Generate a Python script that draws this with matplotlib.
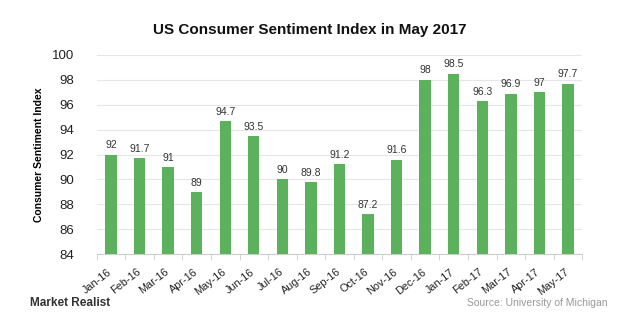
import matplotlib.pyplot as plt
import matplotlib.transforms as mtransforms
import numpy as np

months = ['Jan-16', 'Feb-16', 'Mar-16', 'Apr-16', 'May-16', 'Jun-16', 'Jul-16',
          'Aug-16', 'Sep-16', 'Oct-16', 'Nov-16', 'Dec-16', 'Jan-17', 'Feb-17',
          'Mar-17', 'Apr-17', 'May-17']
sentiment = [92, 91.7, 91, 89, 94.7, 93.5, 90, 89.8, 91.2, 87.2, 91.6, 98,
             98.5, 96.3, 96.9, 97, 97.7]
yticks = [84, 86, 88, 90, 92, 94, 96, 98, 100]

plt.rcParams['font.family'] = ['Liberation Sans', 'DejaVu Sans']

fig = plt.figure(figsize=(6.2, 3.25), dpi=100)
ax = fig.add_axes([0.156, 0.218, 0.783, 0.613])

x = np.arange(len(months))
ax.bar(x, np.array(sentiment) - 84, bottom=84, width=0.4, color='#5cb25c', zorder=3)

for xi, v in zip(x, sentiment):
    ax.text(xi, v + 0.35, '{:g}'.format(v), ha='center', va='bottom',
            fontsize=7.5, color='#333333')

ax.set_xlim(-0.5, len(months) - 0.5)
ax.set_ylim(84, 100)
ax.set_yticks(yticks)
ax.tick_params(axis='y', length=0, labelsize=9.5, pad=16, colors='#222222')
ax.yaxis.grid(True, color='#e6e6e6', linewidth=0.8, zorder=0)

# category ticks sit between the bars
ax.set_xticks(x)
ax.set_xticklabels(months, rotation=38, ha='right', va='top', fontsize=7.8,
                   color='#222222')
ax.set_xticks(np.arange(len(months) + 1) - 0.5, minor=True)
ax.tick_params(axis='x', which='major', length=0, pad=2)
ax.tick_params(axis='x', which='minor', length=4, color='#cccccc')

# nudge the labels down a bit, below the minor ticks
shift = mtransforms.ScaledTranslation(2 / 72, -7 / 72, fig.dpi_scale_trans)
for lbl in ax.get_xticklabels():
    lbl.set_transform(lbl.get_transform() + shift)

for s in ['top', 'right', 'left']:
    ax.spines[s].set_visible(False)
ax.spines['bottom'].set_color('#cccccc')

ax.set_ylabel('Consumer Sentiment Index', fontsize=7.5, fontweight='bold', labelpad=6)

fig.text(0.5, 0.895, 'US Consumer Sentiment Index in May 2017', ha='center',
         fontsize=11, fontweight='bold', color='#111111')
fig.text(0.048, 0.06, 'Market Realist', fontsize=8.5, fontweight='bold', color='#333333')
fig.text(0.98, 0.06, 'Source: University of Michigan', ha='right', fontsize=7.5,
         color='#999999')

fig.savefig('out.png', dpi=100)
